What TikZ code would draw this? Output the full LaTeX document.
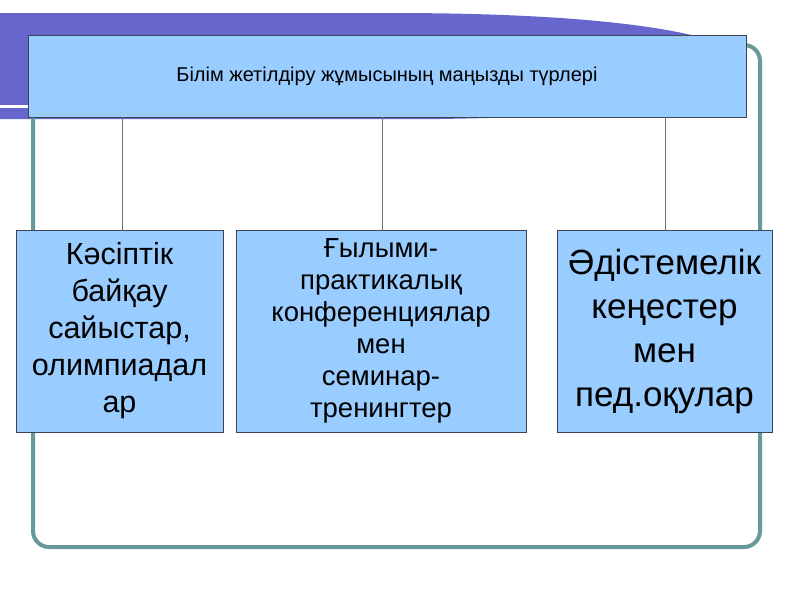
\documentclass[tikz,border=0pt]{standalone}
\usepackage{fontspec}
\setmainfont{Liberation Sans}
\definecolor{boxblue}{HTML}{99CCFF}
\definecolor{boxedge}{HTML}{3A4555}
\definecolor{bandpurple}{HTML}{6666CC}
\definecolor{frameteal}{HTML}{669999}
\definecolor{linkgray}{HTML}{707070}
\tikzset{
  bluebox/.style={draw=boxedge, fill=boxblue, line width=0.8pt, inner sep=0pt, align=center, anchor=center},
  link/.style={draw=linkgray, line width=1pt}
}
\begin{document}
\begin{tikzpicture}[x=1pt,y=-1pt]
\useasboundingbox (0,0) rectangle (800,600);
\fill[white] (0,0) rectangle (800,600);
% purple band
\fill[bandpurple] (0,13) -- (390,13) .. controls (540,13) and (640,22) .. (700,37) -- (700,112) .. controls (600,115) and (500,118) .. (440,119) -- (0,119) -- cycle;
\draw[white, line width=3pt] (0,106.5) -- (30,106.5);
% frame
\draw[frameteal, line width=4pt, rounded corners=16pt] (33,45) rectangle (760,547);
% top box
\node[bluebox, minimum width=718pt, minimum height=82pt, font=\fontsize{20}{24}\selectfont] (top) at (387,76) {Білім жетілдіру жұмысының маңызды түрлері};
% lower boxes
\node[bluebox, minimum width=207pt, minimum height=202pt, font=\fontsize{30.5}{37}\selectfont] (b1) at (119.5,331) {Кәсіптік\\байқау\\сайыстар,\\олимпиадал\\ар};
\node[bluebox, minimum width=290pt, minimum height=202pt, font=\fontsize{27.5}{32}\selectfont] (b2) at (381,331) {Ғылыми-\\практикалық\\конференциялар\\мен\\семинар-\\тренингтер};
\node[bluebox, minimum width=215pt, minimum height=202pt, font=\fontsize{35}{44}\selectfont] (b3) at (664.5,331) {Әдістемелік\\кеңестер\\мен\\пед.оқулар};
% connectors
\path[link] ([xshift=3pt]b1.north) -- ([xshift=3pt]b1.north |- top.south);
\path[link] ([xshift=1pt]b2.north) -- ([xshift=1pt]b2.north |- top.south);
\path[link] ([xshift=0.5pt]b3.north) -- ([xshift=0.5pt]b3.north |- top.south);
\end{tikzpicture}
\end{document}
